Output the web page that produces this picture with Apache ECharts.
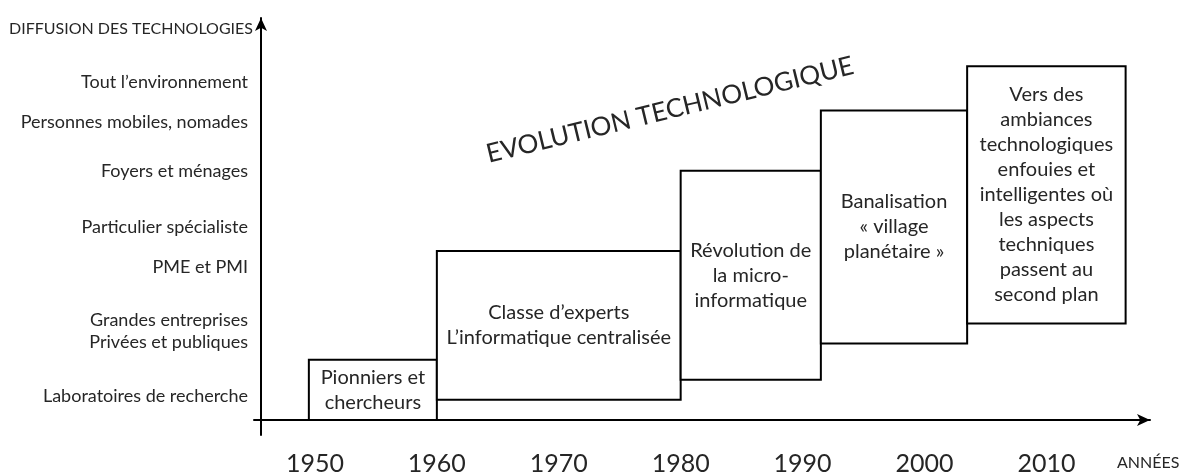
<!DOCTYPE html>
<html>
<head>
<meta charset="utf-8">
<script src="https://cdn.jsdelivr.net/npm/echarts@6/dist/echarts.min.js"></script>
<style>
html, body { margin: 0; padding: 0; background: #fff; }
#main { width: 1186px; height: 475px; }
</style>
</head>
<body>
<div id="main"></div>
<script>
// niveaux de diffusion (axe vertical)
const niveaux = [
  'Laboratoires de recherche',
  'Grandes entreprises\nPrivées et publiques',
  'PME et PMI',
  'Particulier spécialiste',
  'Foyers et ménages',
  'Personnes mobiles, nomades',
  'Tout l\u2019environnement'
]
const niveauxVal = [6, 22, 38, 48, 62, 74, 84]

// années (axe horizontal)
const annees = [1950, 1960, 1970, 1980, 1990, 2000, 2010]

// périodes
const periodes = [
  'Pionniers et\nchercheurs',
  'Classe d\u2019experts\nL\u2019informatique centralisée',
  'Révolution de\nla micro-\ninformatique',
  'Banalisation\n« village\nplanétaire »',
  'Vers des\nambiances\ntechnologiques\nenfouies et\nintelligentes où\nles aspects\ntechniques\npassent au\nsecond plan'
]
const debut = [1949.5, 1960, 1980, 1991.5, 2003.5]
const fin = [1960, 1980, 1991.5, 2003.5, 2016.5]
const bas = [0, 5, 10, 19, 24]
const haut = [15, 42, 62, 77, 88]

const font = 'Lato, "Open Sans", sans-serif'
const textColor = '#262626'

let chart = echarts.init(document.getElementById('main'))

let data = periodes.map(function (p, i) {
  return { value: [debut[i], fin[i], bas[i], haut[i]], name: p }
})

let option = {
  animation: false,
  textStyle: { fontFamily: font },
  grid: {
    left: 254,
    right: 36,
    top: 18,
    bottom: 40,
    outerBoundsMode: 'none',
    containLabel: false
  },
  xAxis: {
    type: 'value',
    min: 1945,
    max: 2018.5,
    splitLine: { show: false },
    axisTick: { show: false },
    axisLine: {
      onZero: true,
      symbol: ['none', 'arrow'],
      symbolSize: [9, 13],
      lineStyle: { color: '#000', width: 2 }
    },
    axisLabel: {
      customValues: annees,
      margin: 16,
      fontSize: 25,
      color: textColor,
      fontFamily: font,
      formatter: function (v) { return String(v) }
    }
  },
  yAxis: {
    type: 'value',
    min: -3.75,
    max: 100,
    offset: -7,
    name: 'DIFFUSION DES TECHNOLOGIES',
    nameLocation: 'end',
    nameGap: -11,
    nameTextStyle: {
      align: 'right',
      verticalAlign: 'middle',
      fontSize: 16,
      color: textColor,
      fontFamily: font,
      padding: [0, 8, 0, 0]
    },
    splitLine: { show: false },
    axisTick: { show: false },
    axisLine: {
      show: true,
      symbol: ['none', 'arrow'],
      symbolSize: [9, 13],
      lineStyle: { color: '#000', width: 2 }
    },
    axisLabel: {
      customValues: niveauxVal,
      margin: 13,
      fontSize: 18,
      lineHeight: 22,
      color: textColor,
      fontFamily: font,
      formatter: function (v) {
        let i = niveauxVal.indexOf(v)
        return i >= 0 ? niveaux[i] : ''
      }
    }
  },
  graphic: [
    {
      type: 'text',
      x: 670,
      y: 110,
      rotation: 13.7 * Math.PI / 180,
      style: {
        text: 'EVOLUTION TECHNOLOGIQUE',
        fontSize: 26,
        fontFamily: font,
        fill: textColor,
        align: 'center',
        verticalAlign: 'middle'
      }
    },
    {
      type: 'text',
      left: 1117,
      top: 455,
      style: {
        text: 'ANNÉES',
        fontSize: 16,
        fontFamily: font,
        fill: textColor
      }
    }
  ],
  series: [
    {
      type: 'custom',
      data: data,
      encode: { x: [0, 1], y: [2, 3] },
      renderItem: function (params, api) {
        let p0 = api.coord([api.value(0), api.value(3)])
        let p1 = api.coord([api.value(1), api.value(2)])
        return {
          type: 'rect',
          shape: { x: p0[0], y: p0[1], width: p1[0] - p0[0], height: p1[1] - p0[1] },
          style: { fill: '#fff', stroke: '#000', lineWidth: 2 },
          textContent: {
            style: {
              text: periodes[params.dataIndex],
              fontSize: 20,
              lineHeight: 25,
              fontFamily: font,
              fill: textColor,
              align: 'center'
            }
          },
          textConfig: { position: 'inside' }
        }
      }
    }
  ]
}

chart.setOption(option)
</script>
</body>
</html>
